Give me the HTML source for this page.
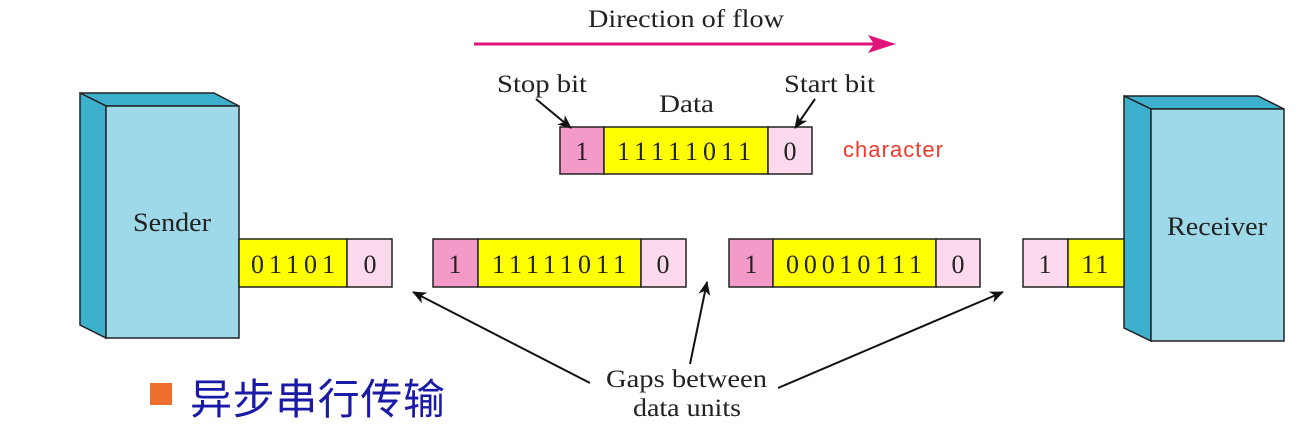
<!DOCTYPE html>
<html><head><meta charset="utf-8"><style>
body{margin:0;background:#fff;width:1316px;height:436px;overflow:hidden}
svg text{font-family:"Liberation Serif",serif;fill:#222}
</style></head><body>
<svg width="1316" height="436" viewBox="0 0 1316 436">
<defs>
<marker id="ah" viewBox="0 0 14 12" refX="13" refY="6" markerWidth="14" markerHeight="12" orient="auto-start-reverse" markerUnits="userSpaceOnUse"><path d="M0,0 L14,6 L0,12 L4,6z" fill="#111"/></marker>
</defs>
<g>
<text x="588" y="27" font-size="25" textLength="196" lengthAdjust="spacingAndGlyphs">Direction of flow</text>
<line x1="474" y1="44" x2="880" y2="44" stroke="#e0147a" stroke-width="3"/>
<path d="M868,35 L896,44 L868,53 L874,44z" fill="#e0147a"/>
</g>
<g stroke="#222" stroke-width="1.5">
<path d="M80,93 L214,93 L239,106 L106,106z" fill="#3cb0cc"/>
<path d="M80,93 L106,106 L106,338 L80,325z" fill="#3cb0cc"/>
<rect x="106" y="106" width="133" height="232" fill="#9ed9ea"/>
<text x="133" y="231" font-size="26" textLength="78" lengthAdjust="spacingAndGlyphs" stroke="none">Sender</text>
</g>
<g stroke="#222" stroke-width="1.5">
<path d="M1124,96 L1258,96 L1284,109 L1151,109z" fill="#3cb0cc"/>
<path d="M1124,96 L1151,109 L1151,341 L1124,328z" fill="#3cb0cc"/>
<rect x="1151" y="109" width="133" height="232" fill="#9ed9ea"/>
<text x="1167" y="235" font-size="26" textLength="100" lengthAdjust="spacingAndGlyphs" stroke="none">Receiver</text>
</g>
<g stroke="#222" stroke-width="1.5" font-size="26">
<g>
<rect x="560" y="127" width="44" height="47" fill="#f49ac9"/><rect x="604" y="127" width="164" height="47" fill="#ffff00"/><rect x="768" y="127" width="44" height="47" fill="#fcd9ec"/>
<text x="582" y="160" text-anchor="middle" stroke="none">1</text><text x="617" y="160" stroke="none" textLength="134">11111011</text><text x="790" y="160" text-anchor="middle" stroke="none">0</text>
</g>
<g>
<rect x="239" y="239" width="108" height="48" fill="#ffff00"/><rect x="347" y="239" width="45" height="48" fill="#fcd9ec"/>
<text x="251" y="273" stroke="none" textLength="84">01101</text><text x="370" y="273" text-anchor="middle" stroke="none">0</text>
</g>
<g>
<rect x="433" y="239" width="45" height="48" fill="#f49ac9"/><rect x="478" y="239" width="163" height="48" fill="#ffff00"/><rect x="641" y="239" width="45" height="48" fill="#fcd9ec"/>
<text x="455" y="273" text-anchor="middle" stroke="none">1</text><text x="492" y="273" stroke="none" textLength="134">11111011</text><text x="663" y="273" text-anchor="middle" stroke="none">0</text>
</g>
<g>
<rect x="729" y="239" width="44" height="48" fill="#f49ac9"/><rect x="773" y="239" width="163" height="48" fill="#ffff00"/><rect x="936" y="239" width="44" height="48" fill="#fcd9ec"/>
<text x="751" y="273" text-anchor="middle" stroke="none">1</text><text x="786" y="273" stroke="none" textLength="136">00010111</text><text x="958" y="273" text-anchor="middle" stroke="none">0</text>
</g>
<g>
<rect x="1023" y="239" width="45" height="48" fill="#fcd9ec"/><rect x="1068" y="239" width="56" height="48" fill="#ffff00"/>
<text x="1045" y="273" text-anchor="middle" stroke="none">1</text><text x="1096" y="273" text-anchor="middle" stroke="none" letter-spacing="2">11</text>
</g>
</g>
<g font-size="25">
<text x="497" y="92" textLength="90" lengthAdjust="spacingAndGlyphs">Stop bit</text>
<text x="659" y="112" textLength="55" lengthAdjust="spacingAndGlyphs">Data</text>
<text x="784" y="92" textLength="91" lengthAdjust="spacingAndGlyphs">Start bit</text>
<text x="843" y="157" font-size="22" textLength="100" style="font-family:'Liberation Sans',sans-serif;fill:#ee3b2a">character</text>
<text x="606" y="387" textLength="161" lengthAdjust="spacingAndGlyphs">Gaps between</text>
<text x="633" y="416" textLength="108" lengthAdjust="spacingAndGlyphs">data units</text>
</g>
<g stroke="#111" stroke-width="2">
<line x1="536" y1="99" x2="571" y2="128" marker-end="url(#ah)"/>
<line x1="815" y1="99" x2="795" y2="128" marker-end="url(#ah)"/>
<line x1="590" y1="383" x2="413" y2="292" marker-end="url(#ah)"/>
<line x1="690" y1="364" x2="707" y2="282" marker-end="url(#ah)"/>
<line x1="778" y1="388" x2="1003" y2="292" marker-end="url(#ah)"/>
</g>
<g>
<rect x="150" y="383" width="22" height="22" fill="#ed6e2d"/>
<text x="190" y="414" font-size="42" textLength="255" style="font-family:'Liberation Sans','Noto Sans CJK SC',sans-serif;fill:#1a1aa6">异步串行传输</text>
</g>
</svg>
</body></html>
